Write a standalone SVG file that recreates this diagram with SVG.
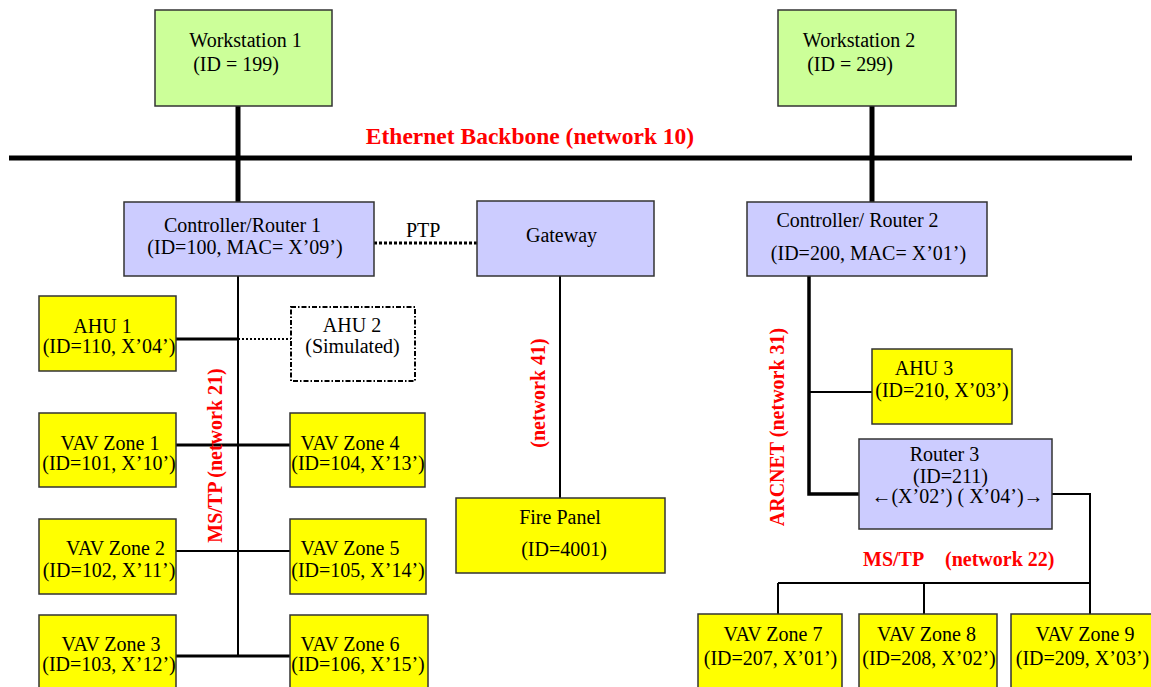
<svg xmlns="http://www.w3.org/2000/svg" width="1151" height="687" viewBox="0 0 1151 687">
<style>
  text { font-family: "Liberation Serif", "Times New Roman", serif; font-size: 20px; fill: #000; }
  .c { text-anchor: middle; }
  .red { fill: #ff0000; font-weight: bold; }
  .box { stroke: #333; stroke-width: 1.5; }
  .green { fill: #ccff99; }
  .lav { fill: #ccccff; }
  .yel { fill: #ffff00; }
  .sim { fill: #fff; stroke: #000; stroke-width: 2; stroke-dasharray: 5 2 1.5 2; }
  .ln { stroke: #000; fill: none; }
</style>
<rect width="1151" height="687" fill="#fff"/>

<g id="connectors">
  <line class="ln" x1="9" y1="158" x2="1132" y2="158" stroke-width="5"/>
  <line class="ln" x1="238" y1="106" x2="238" y2="202" stroke-width="5"/>
  <line class="ln" x1="872" y1="106" x2="872" y2="202" stroke-width="5"/>
  <line class="ln" x1="238" y1="276" x2="238" y2="657" stroke-width="2"/>
  <line class="ln" x1="176" y1="339" x2="238" y2="339" stroke-width="3"/>
  <line class="ln" x1="238" y1="339" x2="291" y2="339" stroke-width="2" stroke-dasharray="2 2"/>
  <line class="ln" x1="176" y1="445" x2="290" y2="445" stroke-width="3"/>
  <line class="ln" x1="176" y1="551" x2="290" y2="551" stroke-width="2"/>
  <line class="ln" x1="176" y1="656" x2="290" y2="656" stroke-width="3"/>
  <line class="ln" x1="374" y1="243" x2="477" y2="243" stroke-width="3" stroke-dasharray="3 2"/>
  <line class="ln" x1="560" y1="276" x2="560" y2="498" stroke-width="2"/>
  <polyline class="ln" points="809,276 809,494 859,494" stroke-width="3.5"/>
  <line class="ln" x1="809" y1="392" x2="872" y2="392" stroke-width="2"/>
  <polyline class="ln" points="1052,494 1090,494 1090,614" stroke-width="2"/>
  <line class="ln" x1="778" y1="583" x2="1090" y2="583" stroke-width="2"/>
  <line class="ln" x1="778" y1="583" x2="778" y2="614" stroke-width="2"/>
  <line class="ln" x1="924" y1="583" x2="924" y2="614" stroke-width="2"/>
</g>

<g id="labels">
  <text class="red c" x="530" y="144" style="font-size:23.5px">Ethernet Backbone (network 10)</text>
  <text x="406" y="237">PTP</text>
  <text class="red c" transform="translate(222,455.5) rotate(-90)">MS/TP (network 21)</text>
  <text class="red c" transform="translate(545,393) rotate(-90)">(network 41)</text>
  <text class="red c" transform="translate(784,427) rotate(-90)">ARCNET (network 31)</text>
  <text class="red" y="566"><tspan x="863">MS/TP</tspan><tspan x="945">(network 22)</tspan></text>
</g>

<g id="ws1"><rect class="box green" x="155" y="10" width="177" height="96"/>
  <text class="c" x="245.5" y="47">Workstation 1</text><text class="c" x="236" y="71">(ID = 199)</text></g>
<g id="ws2"><rect class="box green" x="778" y="10" width="178" height="96"/>
  <text class="c" x="859" y="47">Workstation 2</text><text class="c" x="850" y="71">(ID = 299)</text></g>
<g id="cr1"><rect class="box lav" x="124" y="202" width="250" height="74"/>
  <text class="c" x="242.5" y="232">Controller/Router 1</text><text class="c" x="245" y="254">(ID=100, MAC= X’09’)</text></g>
<g id="gateway"><rect class="box lav" x="477" y="201" width="177" height="75"/>
  <text class="c" x="561.5" y="242">Gateway</text></g>
<g id="cr2"><rect class="box lav" x="747" y="202" width="240" height="74"/>
  <text class="c" x="857.5" y="227">Controller/ Router 2</text><text class="c" x="868.5" y="260">(ID=200, MAC= X’01’)</text></g>
<g id="ahu1"><rect class="box yel" x="39" y="296" width="137" height="75"/>
  <text class="c" x="102.5" y="333">AHU 1</text><text class="c" x="109" y="353">(ID=110, X’04’)</text></g>
<g id="ahu2"><rect class="sim" x="291" y="307" width="124" height="74"/>
  <text class="c" x="352" y="332">AHU 2</text><text class="c" x="352.5" y="353">(Simulated)</text></g>
<g id="vav1"><rect class="box yel" x="39" y="413" width="137" height="74"/>
  <text class="c" x="110" y="450">VAV Zone 1</text><text class="c" x="109" y="470">(ID=101, X’10’)</text></g>
<g id="vav4"><rect class="box yel" x="290" y="413" width="135" height="74"/>
  <text class="c" x="350" y="450">VAV Zone 4</text><text class="c" x="358" y="470">(ID=104, X’13’)</text></g>
<g id="vav2"><rect class="box yel" x="39" y="519" width="137" height="75"/>
  <text class="c" x="115.5" y="555">VAV Zone 2</text><text class="c" x="109" y="577">(ID=102, X’11’)</text></g>
<g id="vav5"><rect class="box yel" x="290" y="519" width="136" height="75"/>
  <text class="c" x="350" y="555">VAV Zone 5</text><text class="c" x="358" y="577">(ID=105, X’14’)</text></g>
<g id="vav3"><rect class="box yel" x="39" y="615" width="137" height="80"/>
  <text class="c" x="111" y="651">VAV Zone 3</text><text class="c" x="109" y="671">(ID=103, X’12’)</text></g>
<g id="vav6"><rect class="box yel" x="290" y="615" width="138" height="80"/>
  <text class="c" x="350" y="651">VAV Zone 6</text><text class="c" x="358" y="671">(ID=106, X’15’)</text></g>
<g id="fire"><rect class="box yel" x="456" y="498" width="209" height="75"/>
  <text class="c" x="560" y="524">Fire Panel</text><text class="c" x="564" y="556">(ID=4001)</text></g>
<g id="ahu3"><rect class="box yel" x="872" y="349" width="140" height="75"/>
  <text class="c" x="924" y="375">AHU 3</text><text class="c" x="942" y="397">(ID=210, X’03’)</text></g>
<g id="router3"><rect class="box lav" x="859" y="439" width="193" height="90"/>
  <text class="c" x="944.5" y="461">Router 3</text><text class="c" x="950.5" y="483">(ID=211)</text>
  <text class="c" x="957.5" y="503">←(X’02’) ( X’04’)→</text></g>
<g id="vav7"><rect class="box yel" x="698" y="614" width="144" height="80"/>
  <text class="c" x="773" y="641">VAV Zone 7</text><text class="c" x="770.5" y="665">(ID=207, X’01’)</text></g>
<g id="vav8"><rect class="box yel" x="859" y="614" width="138" height="80"/>
  <text class="c" x="926.5" y="641">VAV Zone 8</text><text class="c" x="929" y="665">(ID=208, X’02’)</text></g>
<g id="vav9"><rect class="box yel" x="1011" y="614" width="145" height="80"/>
  <text class="c" x="1085" y="641">VAV Zone 9</text><text class="c" x="1082.5" y="665">(ID=209, X’03’)</text></g>
</svg>
